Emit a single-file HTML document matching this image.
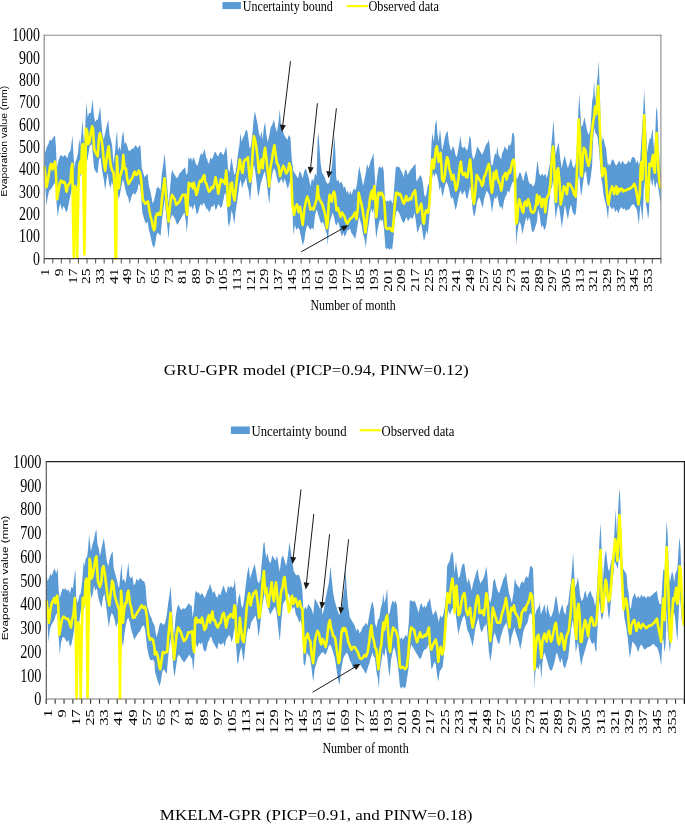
<!DOCTYPE html>
<html><head><meta charset="utf-8"><style>
html,body{margin:0;padding:0;background:#fff;width:685px;height:824px;overflow:hidden}
svg{display:block;will-change:transform}
text{font-family:"Liberation Serif",serif;fill:#000}
text.sans{font-family:"Liberation Sans",sans-serif}
</style></head><body>
<svg width="685" height="824" viewBox="0 0 685 824">
<polygon points="44.2,140.7 45.3,152.9 46.6,147.4 48.4,144.1 49.9,139.6 51.5,140.7 52.8,137.9 55.0,135.2 55.9,146.3 56.8,168.4 58.1,161.7 59.9,156.2 61.6,155.1 63.0,157.3 64.3,155.1 66.1,156.2 67.4,158.4 68.7,152.9 70.5,150.7 71.4,144.1 72.5,135.2 73.6,157.3 74.7,168.4 75.3,161.7 76.4,159.5 78.0,152.9 79.3,138.5 80.2,146.3 81.5,133.0 82.6,119.8 83.7,141.9 84.8,135.2 86.4,102.1 87.7,117.6 89.0,113.1 90.8,113.1 92.6,99.4 93.9,115.3 95.2,122.0 96.5,119.8 97.7,119.8 99.0,113.1 100.1,106.5 101.2,119.8 102.3,133.0 103.8,139.6 105.6,130.8 107.1,124.2 108.3,119.8 109.6,135.2 110.9,139.6 112.2,146.3 113.6,163.9 114.9,152.9 116.2,137.4 117.1,130.8 118.0,150.7 119.3,146.3 120.6,150.7 121.9,137.4 123.3,130.8 124.6,144.1 125.9,141.9 127.3,146.3 128.6,150.7 130.3,150.7 132.1,148.5 133.7,148.5 135.2,145.2 136.5,146.3 137.9,148.5 139.2,145.2 140.5,146.3 141.8,168.4 143.2,172.8 144.5,177.2 146.2,175.0 147.6,173.9 148.9,186.0 150.2,190.4 151.5,197.1 152.7,203.7 154.0,200.4 155.3,194.9 156.6,188.2 158.0,187.1 159.3,188.2 160.6,190.4 161.9,172.8 163.3,163.9 164.6,152.9 165.9,168.4 167.2,186.0 168.6,203.7 169.9,190.4 171.2,175.0 172.1,169.5 173.4,172.8 174.7,175.0 176.1,177.2 177.4,178.3 178.7,175.0 180.0,172.8 181.4,171.7 182.7,169.5 184.0,168.4 185.3,167.3 186.2,175.0 187.6,172.8 188.4,157.3 189.8,159.5 191.1,157.3 192.0,161.7 193.3,157.3 194.6,159.5 195.9,163.9 197.3,166.1 198.6,161.7 199.9,156.2 201.2,152.9 202.6,155.1 203.9,150.7 204.8,149.6 206.1,157.3 207.4,159.5 207.7,161.7 209.0,163.9 210.3,157.3 211.6,159.5 213.0,157.3 214.3,152.9 215.6,151.8 216.9,155.1 218.3,156.2 219.6,152.9 220.9,151.8 222.2,154.0 223.6,155.1 224.9,150.7 226.2,146.3 227.1,155.1 228.0,168.4 229.3,172.8 230.6,163.9 231.5,157.3 232.8,166.1 234.2,175.0 235.5,172.8 236.8,163.9 238.1,152.9 239.5,144.1 240.3,133.0 241.7,141.9 243.0,137.4 244.3,135.2 245.6,130.8 247.0,129.7 248.3,137.4 249.6,148.5 250.9,146.3 252.3,135.2 253.6,119.8 254.9,110.9 256.2,117.6 257.6,124.2 258.9,133.0 260.2,137.4 261.5,130.8 262.6,140.0 263.9,127.2 265.1,122.0 266.4,134.9 267.7,142.6 269.3,134.9 270.8,127.2 272.3,124.6 273.9,119.5 275.4,127.2 277.0,132.3 278.5,122.0 279.8,109.2 281.1,127.2 282.6,129.8 284.2,134.9 285.7,137.5 287.3,140.0 288.8,134.9 290.4,137.5 291.9,160.6 293.4,170.9 295.0,173.5 296.5,176.1 298.1,178.6 299.6,170.9 301.2,173.5 302.7,178.6 304.3,170.9 305.8,168.3 307.3,173.5 308.9,178.6 310.4,186.4 312.0,178.6 313.5,181.2 315.1,173.5 316.6,176.1 317.7,137.4 318.5,133.0 319.4,146.3 320.7,163.9 322.1,172.8 323.4,175.0 324.7,177.2 326.0,181.6 327.4,183.8 328.3,183.8 329.6,181.6 330.9,172.8 332.2,163.9 333.6,146.3 334.4,135.2 335.3,150.7 336.2,177.2 337.1,181.6 338.4,179.4 339.7,183.8 341.1,181.6 342.4,183.8 343.7,188.2 345.0,186.0 346.4,192.7 347.7,190.4 349.0,194.9 350.3,190.4 351.7,194.9 353.0,190.4 354.3,188.2 355.6,190.4 357.0,183.8 358.3,172.8 359.2,166.1 360.5,172.8 361.8,179.4 363.2,186.0 364.5,179.4 365.8,172.8 367.1,163.9 368.5,168.4 369.8,163.9 371.1,159.5 372.4,157.3 372.7,155.1 373.5,152.9 374.4,168.4 375.7,190.4 377.1,177.2 378.4,168.4 379.7,166.1 381.0,168.4 382.4,166.1 383.7,170.6 385.0,199.3 386.3,201.5 387.7,200.4 389.0,201.5 390.3,199.3 391.6,201.5 393.0,203.7 394.3,186.0 395.6,168.4 396.9,166.1 398.3,167.3 399.6,167.3 400.9,170.6 402.3,172.8 403.6,177.2 404.9,170.6 406.2,169.5 407.6,175.0 408.9,172.8 410.2,170.6 411.5,168.4 412.9,167.3 414.2,165.0 415.5,163.9 416.4,181.6 417.7,179.4 419.0,177.2 420.4,175.0 421.7,177.2 423.0,183.8 424.3,194.9 425.7,197.1 427.0,190.4 427.7,186.0 429.0,183.8 430.3,172.8 431.6,141.9 432.5,133.0 433.8,141.9 435.2,124.2 436.5,119.8 437.4,133.0 438.7,141.9 440.0,128.6 440.9,137.4 442.2,150.7 443.6,144.1 444.9,137.4 446.2,133.0 447.5,130.8 448.9,141.9 450.2,148.5 451.5,150.7 452.8,146.3 454.2,148.5 455.5,155.1 456.8,157.3 458.1,150.7 459.5,141.9 460.3,135.2 461.7,146.3 463.0,148.5 464.3,146.3 465.6,148.5 467.0,150.7 468.3,146.3 469.6,135.2 470.9,139.6 471.8,152.9 473.2,159.5 474.5,157.3 475.8,152.9 477.1,146.3 478.5,148.5 479.8,150.7 481.1,152.9 482.4,155.1 482.7,152.9 484.0,150.7 485.3,146.3 486.6,144.1 488.0,141.9 488.8,139.6 489.7,146.3 491.0,163.9 492.4,166.1 493.7,159.5 495.0,152.9 496.3,155.1 497.2,146.3 498.6,155.1 499.9,157.3 501.2,159.5 502.1,152.9 503.4,150.7 504.7,146.3 506.1,148.5 507.4,150.7 508.7,144.1 510.0,146.3 511.4,141.9 512.3,133.0 513.6,133.0 514.5,137.4 515.3,168.4 516.7,179.4 518.0,177.2 519.3,172.8 520.6,172.8 522.0,177.2 523.3,181.6 524.6,175.0 525.9,170.6 527.3,175.0 528.6,181.6 529.9,183.8 531.2,183.8 532.6,186.0 533.9,186.0 535.2,181.6 536.5,168.4 537.6,160.6 539.1,173.5 540.7,176.1 542.2,173.5 543.7,176.1 545.3,173.5 546.8,178.6 548.4,170.9 549.9,163.2 551.5,142.6 552.5,132.3 553.5,119.5 554.6,140.0 555.6,155.5 557.1,147.8 558.7,142.6 560.2,158.1 561.8,168.3 563.3,160.6 564.8,155.5 566.4,163.2 567.9,168.3 569.5,163.2 571.0,158.1 572.6,165.8 574.1,168.3 575.6,163.2 577.2,140.0 578.2,114.3 579.3,93.7 580.3,111.7 581.3,127.2 582.9,124.6 584.4,116.9 585.9,124.6 587.5,132.3 589.0,134.9 590.6,127.2 592.1,101.5 593.1,96.3 594.1,80.9 595.1,101.5 596.2,91.2 597.7,75.7 598.7,60.3 599.8,91.2 600.8,127.2 601.8,142.6 602.9,137.5 603.9,140.0 604.9,145.2 606.0,147.8 607.0,158.1 608.0,165.8 609.0,163.2 610.1,165.8 611.6,160.6 613.2,159.3 614.7,163.2 616.2,165.8 617.8,163.2 619.3,160.6 620.9,164.5 622.4,160.6 624.0,163.2 625.5,164.5 627.0,163.2 628.6,160.6 630.1,163.2 631.7,158.1 633.2,156.8 634.8,158.1 636.3,163.2 637.9,160.6 638.9,165.8 639.3,163.9 640.2,159.5 641.1,146.3 641.9,133.0 643.3,108.7 644.2,89.9 645.0,106.5 645.9,124.2 647.3,152.9 648.1,146.3 649.0,141.9 649.9,137.4 650.8,139.6 651.7,133.0 652.6,128.6 653.4,141.9 654.3,150.7 655.2,135.2 656.1,110.9 657.0,106.5 657.9,124.2 658.7,146.3 660.1,168.4 660.7,172.8 660.7,203.7 660.1,201.5 658.7,190.4 657.9,186.0 657.0,181.6 656.1,183.8 655.2,188.2 654.3,183.8 653.4,177.2 652.6,186.0 651.7,183.8 650.8,177.2 649.9,186.0 649.0,212.5 648.1,219.2 647.3,212.5 645.9,203.7 645.0,190.4 644.2,179.4 643.3,203.7 642.4,221.4 641.5,212.5 640.6,203.7 639.7,212.5 638.9,224.9 637.9,217.2 636.8,209.5 635.3,206.9 633.7,204.4 632.2,204.4 630.6,206.9 629.1,209.5 627.6,209.5 626.0,210.8 624.5,208.2 622.9,209.5 621.4,206.9 619.8,209.5 618.3,213.4 616.8,209.5 615.2,212.1 613.7,206.9 612.1,209.5 610.6,206.9 609.0,204.4 608.0,219.8 607.0,212.1 606.0,204.4 604.4,199.2 603.4,194.1 602.3,183.8 601.3,178.6 600.3,168.3 599.3,152.9 597.7,137.5 596.7,134.9 595.1,132.3 594.1,127.2 593.1,140.0 592.1,165.8 590.6,178.6 589.0,186.4 587.5,183.8 585.9,170.9 584.4,173.5 582.9,183.8 581.3,196.6 580.3,188.9 579.3,173.5 577.7,183.8 576.7,204.4 575.6,214.7 574.1,214.7 572.6,212.1 571.0,204.4 569.5,209.5 567.9,219.8 566.4,212.1 564.8,204.4 563.3,217.2 561.8,227.5 560.2,214.7 558.7,204.4 557.1,209.5 555.6,219.8 554.6,204.4 553.5,178.6 552.0,186.4 550.4,191.5 548.9,204.4 547.3,217.2 545.8,227.5 544.3,230.1 542.7,224.9 541.2,227.5 539.6,214.7 538.1,209.5 537.0,221.4 535.7,225.8 534.3,230.2 533.0,232.4 531.7,230.2 530.4,221.4 529.0,217.0 527.7,221.4 526.4,217.0 525.1,221.4 523.7,228.0 522.4,234.6 521.1,225.8 519.8,221.4 518.4,225.8 517.1,234.6 516.2,245.7 515.3,203.7 514.5,183.8 513.1,181.6 511.8,183.8 510.5,188.2 509.2,192.7 507.8,190.4 506.5,194.9 505.2,197.1 503.9,201.5 502.5,210.3 501.2,205.9 499.9,208.1 498.6,201.5 497.2,194.9 495.9,199.3 494.6,197.1 493.3,203.7 491.9,212.5 490.6,201.5 489.3,194.9 488.0,192.7 486.6,190.4 485.3,194.9 484.0,199.3 482.7,208.1 482.0,205.9 480.7,201.5 479.3,197.1 478.0,199.3 476.7,203.7 475.4,212.5 474.0,217.0 472.7,210.3 471.4,194.9 470.1,186.0 468.7,192.7 467.4,199.3 466.1,197.1 464.8,190.4 463.4,192.7 462.1,194.9 460.8,190.4 459.5,192.7 458.1,199.3 456.8,205.9 455.5,210.3 454.2,203.7 452.8,197.1 451.5,199.3 450.2,194.9 448.9,188.2 447.5,183.8 446.2,181.6 444.9,186.0 443.6,192.7 442.2,197.1 440.9,186.0 439.6,190.4 438.3,181.6 436.9,175.0 435.6,172.8 434.3,177.2 433.0,172.8 431.6,181.6 430.3,203.7 429.0,221.4 427.7,234.6 426.5,230.2 425.2,236.8 423.9,241.3 422.6,232.4 421.2,223.6 419.9,225.8 418.6,230.2 417.3,232.4 415.9,221.4 414.6,212.5 413.3,217.0 412.0,219.2 410.6,217.0 409.3,219.2 408.0,221.4 406.7,217.0 405.3,219.2 404.0,223.6 402.7,221.4 401.4,219.2 400.0,214.7 398.7,212.5 397.4,210.3 396.1,212.5 394.7,221.4 393.4,239.0 392.1,250.1 390.8,247.9 389.4,250.1 388.1,247.9 386.8,249.0 385.5,247.9 384.1,230.2 382.8,219.2 381.5,221.4 380.2,219.2 378.8,223.6 377.5,230.2 376.2,239.0 374.9,221.4 374.0,208.1 372.7,212.5 372.4,212.5 371.1,208.1 369.8,217.0 368.5,225.8 367.1,234.6 365.8,247.9 364.5,239.0 363.2,234.6 361.8,225.8 360.5,221.4 359.2,217.0 357.9,223.6 356.5,232.4 355.2,239.0 353.9,236.8 352.6,234.6 351.2,232.4 349.9,228.0 348.6,230.2 347.3,230.2 345.9,234.6 344.6,236.8 343.3,232.4 341.9,236.8 340.6,232.4 339.3,225.8 338.0,221.4 336.6,225.8 335.3,223.6 334.0,217.0 332.7,212.5 331.3,217.0 330.0,221.4 328.7,230.2 327.8,245.7 326.9,234.6 325.6,230.2 324.3,225.8 323.0,221.4 321.6,223.6 320.3,221.4 319.0,217.0 317.7,212.5 316.6,209.5 315.1,214.7 313.5,230.1 312.0,227.5 310.4,230.1 308.9,227.5 307.3,224.9 305.8,230.1 304.3,240.4 302.7,245.5 301.2,237.8 299.6,230.1 298.1,227.5 296.5,230.1 295.0,224.9 293.4,235.2 292.4,209.5 290.9,178.6 289.3,183.8 287.8,188.9 286.2,183.8 284.7,178.6 283.2,183.8 281.6,178.6 280.1,181.2 278.5,183.8 277.0,178.6 275.4,170.9 273.9,168.3 272.3,173.5 270.8,183.8 269.3,204.4 267.7,191.5 266.2,178.6 264.6,170.9 263.1,176.1 262.0,179.4 260.7,183.8 259.3,192.7 258.0,197.1 256.7,183.8 255.4,172.8 254.0,163.9 252.7,172.8 251.4,186.0 250.1,201.5 248.7,190.4 247.4,186.0 246.1,177.2 244.8,181.6 243.4,183.8 242.1,188.2 240.8,179.4 239.5,183.8 238.1,194.9 236.8,203.7 235.5,212.5 234.2,224.7 232.8,214.7 231.5,210.3 230.2,221.4 228.9,226.9 228.0,221.4 227.1,208.1 226.2,194.9 224.9,192.7 223.6,199.3 222.2,205.9 220.9,208.1 219.6,205.9 218.3,203.7 216.9,208.1 215.6,210.3 214.3,203.7 213.0,207.0 211.6,205.9 210.3,210.3 209.0,212.5 207.7,208.1 207.4,210.3 206.1,208.1 204.8,204.8 203.5,202.6 202.1,205.9 200.8,203.7 199.5,207.0 198.2,212.5 196.8,214.7 195.5,208.1 194.2,203.7 192.9,210.3 191.5,205.9 190.2,208.1 188.9,203.7 187.6,223.6 186.7,232.4 185.8,221.4 184.5,212.5 183.1,214.7 181.8,217.0 180.5,219.2 179.2,221.4 177.8,224.7 176.5,223.6 175.2,219.2 173.9,217.0 172.5,214.7 171.2,217.0 169.9,221.4 168.6,239.0 167.2,225.8 165.9,212.5 164.6,199.3 163.3,210.3 161.9,221.4 160.6,235.7 159.3,234.6 158.0,232.4 156.6,234.6 155.3,243.5 154.0,247.9 152.7,245.7 151.5,241.3 150.2,234.6 148.9,230.2 147.6,221.4 146.2,223.6 144.9,221.4 143.6,217.0 142.3,212.5 141.4,199.3 140.1,186.0 138.7,183.8 137.4,190.4 136.1,192.7 134.8,194.9 133.4,192.7 132.1,194.9 130.8,199.3 129.5,203.7 128.1,197.1 126.8,194.9 125.5,190.4 124.2,183.8 122.8,179.4 121.5,186.0 120.2,192.7 118.9,199.3 117.5,192.7 115.8,199.3 114.4,194.9 113.1,186.0 111.8,181.6 110.5,188.2 109.1,183.8 107.8,172.8 106.5,179.4 105.2,190.4 103.8,179.4 102.1,170.6 100.5,157.3 99.0,159.5 97.7,172.8 96.3,172.8 94.1,168.4 91.9,144.1 89.7,146.3 87.5,159.5 85.3,163.9 83.1,168.4 80.9,175.0 79.3,177.2 77.6,183.8 75.8,192.7 74.2,190.4 72.7,186.0 71.6,190.4 70.5,194.9 68.7,203.7 67.4,210.3 66.1,212.5 64.7,208.1 63.4,205.9 62.1,210.3 60.3,203.7 59.0,208.1 57.7,217.0 56.6,203.7 55.5,181.6 54.4,183.8 52.8,186.0 51.0,189.3 49.3,190.4 47.7,197.1 46.4,205.9 45.3,186.0 44.2,172.8" fill="#5B9BD5" stroke="none"/>
<polyline points="44.2,166.1 45.3,175.0 46.6,187.1 48.4,177.2 49.9,167.3 51.0,163.9 52.4,169.5 53.7,165.0 55.0,161.7 55.9,172.8 57.0,199.3 58.6,190.4 59.9,182.7 61.2,180.5 62.8,182.7 63.9,181.6 65.2,183.8 66.5,191.6 67.8,186.0 69.2,183.8 70.5,181.6 71.4,168.4 72.3,163.9 73.1,217.0 73.8,256.7 74.9,186.0 76.0,188.2 77.1,257.8 78.4,190.4 79.3,165.0 80.2,161.7 81.1,172.8 82.0,146.3 82.9,144.1 83.7,203.7 84.4,254.5 85.3,190.4 85.9,128.6 87.1,130.8 88.2,144.1 89.5,141.9 90.8,133.0 92.1,126.4 93.0,128.6 94.1,148.5 95.7,152.9 97.0,155.1 97.7,156.2 99.0,137.4 99.9,133.0 101.2,137.4 102.5,146.3 103.8,161.7 105.2,170.6 106.5,159.5 107.8,150.7 108.7,146.3 109.6,157.3 110.9,166.1 112.2,170.6 113.6,172.8 114.9,190.4 115.5,258.9 116.2,256.7 116.9,156.2 117.8,172.8 118.9,188.2 120.0,177.2 121.1,172.8 122.4,168.4 123.3,155.1 124.6,168.4 125.9,168.4 127.3,179.4 128.6,183.8 129.9,181.6 131.2,179.4 132.6,177.2 133.9,172.8 134.8,171.7 136.1,175.0 137.4,173.9 138.7,170.6 140.1,172.8 141.4,181.6 142.7,199.3 144.0,201.5 145.4,203.7 146.7,202.6 148.0,201.5 149.3,210.3 150.7,217.0 152.0,221.4 152.7,225.8 154.0,230.2 154.9,228.0 155.7,217.0 157.1,213.6 158.4,214.7 159.7,212.5 160.6,214.7 161.9,199.3 163.3,188.2 164.6,178.3 165.9,194.9 167.2,208.1 168.6,221.4 169.4,212.5 170.8,199.3 172.1,194.9 173.4,197.1 174.7,199.3 176.1,204.8 177.4,203.7 178.7,202.6 180.0,200.4 181.4,197.1 182.7,194.9 184.5,194.9 185.3,194.9 186.2,208.1 187.1,214.7 188.0,194.9 188.9,182.7 190.2,186.0 191.5,183.8 192.9,188.2 193.7,182.7 195.1,188.2 196.4,194.9 197.7,190.4 199.0,183.8 200.4,180.5 201.7,181.6 203.0,177.2 204.3,175.0 205.2,181.6 206.5,183.8 207.7,188.2 209.0,191.6 210.3,190.4 211.6,187.1 213.0,188.2 214.3,183.8 215.6,177.2 216.9,183.8 218.3,193.8 219.6,186.0 220.9,179.4 222.2,181.6 223.6,180.5 224.9,183.8 226.2,170.6 227.1,181.6 228.0,205.9 229.3,204.8 230.6,183.8 231.9,182.7 233.3,194.9 234.6,200.4 235.9,188.2 237.3,175.0 238.6,168.4 239.9,159.5 241.2,168.4 242.6,172.8 243.9,161.7 245.2,159.5 246.5,159.5 247.9,157.3 248.7,168.4 250.1,181.6 251.4,172.8 252.3,159.5 253.2,144.1 254.0,136.3 254.9,139.6 256.2,146.3 257.6,157.3 258.9,172.8 260.2,163.9 261.5,159.5 262.6,168.3 264.1,152.9 265.1,147.8 266.4,158.1 267.7,170.9 269.3,186.4 270.3,168.3 271.8,160.6 272.9,152.9 274.4,145.2 275.4,152.9 277.0,163.2 278.5,165.8 280.1,176.1 281.6,170.9 283.2,165.8 284.7,168.3 286.2,173.5 287.8,170.9 289.3,163.2 290.9,168.3 292.4,204.4 294.0,214.7 295.5,206.9 297.0,204.4 298.6,212.1 300.1,206.9 301.2,214.7 302.7,224.9 304.3,209.5 305.8,201.8 307.3,196.6 308.9,201.8 310.4,209.5 312.0,208.2 313.5,209.5 315.1,204.4 316.6,199.2 317.7,186.0 318.5,194.9 319.4,199.3 320.7,201.5 322.1,203.7 323.4,208.1 324.7,212.5 326.0,219.2 326.9,228.0 327.8,221.4 328.7,203.7 329.6,194.9 330.5,197.1 331.8,201.5 332.7,194.9 334.0,191.6 334.9,194.9 335.8,203.7 336.6,210.3 338.0,208.1 339.3,212.5 340.6,217.0 341.9,212.5 343.3,214.7 344.6,217.0 345.9,221.4 347.3,223.6 348.6,221.4 349.9,219.2 351.2,218.1 352.6,217.0 353.9,214.7 355.2,212.5 356.5,219.2 357.9,208.1 358.7,192.7 360.1,199.3 361.4,203.7 362.7,210.3 364.0,219.2 365.4,232.4 366.2,225.8 367.1,217.0 368.0,210.3 368.9,208.1 369.8,199.3 371.1,192.7 372.4,190.4 372.7,199.3 373.5,194.9 374.4,186.0 375.3,199.3 376.2,217.0 377.1,208.1 378.0,194.9 378.8,192.7 380.2,194.9 381.5,192.7 382.8,194.9 384.1,199.3 385.0,212.5 385.9,228.0 387.2,229.1 388.6,228.0 389.9,228.0 391.2,230.2 392.5,231.3 393.4,223.6 394.7,205.9 396.1,192.7 397.4,192.7 398.7,194.9 400.0,193.8 401.4,197.1 402.7,201.5 404.0,203.7 405.3,199.3 406.2,196.0 407.1,200.4 408.4,200.4 409.8,198.2 411.1,199.3 412.4,194.9 413.7,192.7 415.1,190.4 416.4,203.7 417.3,212.5 418.6,210.3 419.9,207.0 421.2,203.7 422.1,210.3 423.0,221.4 423.9,223.6 424.8,214.7 426.1,210.3 427.4,212.5 428.1,212.5 429.4,203.7 430.7,179.4 431.6,163.9 432.5,159.5 433.8,168.4 435.2,155.1 436.0,148.5 436.9,146.3 437.8,155.1 438.7,161.7 439.6,159.5 440.5,152.9 441.3,163.9 442.2,179.4 443.6,181.6 444.9,175.0 446.2,161.7 447.1,157.3 448.0,159.5 449.3,168.4 450.6,172.8 451.9,179.4 453.3,175.0 454.6,181.6 455.9,190.4 457.3,186.0 458.6,177.2 459.9,166.1 460.8,161.7 462.1,172.8 463.4,175.0 464.8,172.8 466.1,177.2 467.4,177.2 468.7,168.4 470.1,159.5 471.4,172.8 472.7,197.1 474.0,203.7 475.4,190.4 476.7,175.0 478.0,177.2 479.3,179.4 480.7,181.6 482.0,186.0 483.1,183.8 484.0,177.2 485.3,175.0 486.6,170.6 488.0,166.1 488.8,163.9 489.7,168.4 490.6,183.8 491.9,192.7 492.8,186.0 493.7,172.8 494.6,179.4 495.5,172.8 496.3,170.6 497.2,177.2 498.6,181.6 499.9,183.8 501.2,190.4 502.1,186.0 503.0,177.2 504.3,175.0 505.6,172.8 506.5,179.4 507.8,175.0 509.2,170.6 510.0,172.8 510.9,168.4 512.3,161.7 513.6,159.5 514.5,163.9 515.3,192.7 516.2,223.6 517.1,221.4 518.0,208.1 519.3,199.3 520.6,203.7 522.0,210.3 523.3,212.5 524.2,203.7 525.5,201.5 526.8,205.9 528.2,199.3 529.5,203.7 530.8,210.3 532.1,212.5 533.5,212.5 534.8,210.3 536.1,203.7 537.0,194.9 537.6,204.4 538.6,199.2 539.6,196.6 540.7,201.8 541.7,206.9 542.7,199.2 544.3,199.2 545.3,212.1 546.3,201.8 547.3,196.6 548.9,194.1 550.4,183.8 551.5,163.2 553.0,146.5 554.0,158.1 555.1,194.1 556.1,201.8 557.1,170.9 558.2,168.3 559.7,183.8 560.7,204.4 562.3,196.6 563.8,186.4 565.4,188.9 566.9,194.1 567.9,183.8 569.5,183.8 571.0,186.4 572.6,188.9 574.1,194.1 575.6,196.6 576.7,178.6 577.7,147.8 578.7,119.5 579.8,134.9 580.8,173.5 581.8,176.1 582.9,155.5 583.9,147.8 585.4,150.3 587.0,160.6 588.5,165.8 590.1,158.1 591.6,134.9 593.1,122.0 594.1,116.9 595.1,106.6 596.2,114.3 597.2,101.5 598.2,86.0 599.3,114.3 600.3,140.0 601.3,160.6 602.3,176.1 603.4,170.9 604.4,168.3 605.4,170.9 606.5,186.4 607.5,199.2 608.5,204.4 609.6,196.6 610.6,191.5 612.1,186.4 613.2,188.9 614.2,194.1 615.2,188.9 616.2,186.4 617.3,194.1 618.3,188.9 619.3,191.5 620.4,188.9 621.9,188.9 623.4,191.5 625.0,190.2 626.5,190.2 628.1,188.9 629.6,188.9 631.2,187.6 632.7,186.4 634.3,183.8 635.3,186.4 636.3,191.5 637.3,196.6 638.4,204.4 639.7,194.9 640.6,168.4 641.5,161.7 642.4,179.4 643.3,146.3 644.2,115.3 645.0,135.2 645.9,172.8 646.8,199.3 647.7,201.5 648.6,186.0 649.5,163.9 650.3,163.9 651.2,166.1 652.1,159.5 653.0,155.1 653.9,168.4 654.8,172.8 655.6,152.9 656.5,133.0 657.4,146.3 658.3,168.4 659.2,179.4 660.1,186.0 660.7,188.2" fill="none" stroke="#FFFF00" stroke-width="2.6" stroke-linejoin="round"/>
<path d="M44.20,258.6v4.9M52.77,258.6v4.9M61.33,258.6v4.9M69.90,258.6v4.9M78.46,258.6v4.9M87.03,258.6v4.9M95.59,258.6v4.9M104.16,258.6v4.9M112.72,258.6v4.9M121.29,258.6v4.9M129.85,258.6v4.9M138.42,258.6v4.9M146.98,258.6v4.9M155.55,258.6v4.9M164.11,258.6v4.9M172.68,258.6v4.9M181.24,258.6v4.9M189.81,258.6v4.9M198.38,258.6v4.9M206.94,258.6v4.9M215.51,258.6v4.9M224.07,258.6v4.9M232.64,258.6v4.9M241.20,258.6v4.9M249.77,258.6v4.9M258.33,258.6v4.9M266.90,258.6v4.9M275.46,258.6v4.9M284.03,258.6v4.9M292.59,258.6v4.9M301.16,258.6v4.9M309.72,258.6v4.9M318.29,258.6v4.9M326.85,258.6v4.9M335.42,258.6v4.9M343.98,258.6v4.9M352.55,258.6v4.9M361.12,258.6v4.9M369.68,258.6v4.9M378.25,258.6v4.9M386.81,258.6v4.9M395.38,258.6v4.9M403.94,258.6v4.9M412.51,258.6v4.9M421.07,258.6v4.9M429.64,258.6v4.9M438.20,258.6v4.9M446.77,258.6v4.9M455.33,258.6v4.9M463.90,258.6v4.9M472.46,258.6v4.9M481.03,258.6v4.9M489.59,258.6v4.9M498.16,258.6v4.9M506.72,258.6v4.9M515.29,258.6v4.9M523.86,258.6v4.9M532.42,258.6v4.9M540.99,258.6v4.9M549.55,258.6v4.9M558.12,258.6v4.9M566.68,258.6v4.9M575.25,258.6v4.9M583.81,258.6v4.9M592.38,258.6v4.9M600.94,258.6v4.9M609.51,258.6v4.9M618.07,258.6v4.9M626.64,258.6v4.9M635.20,258.6v4.9M643.77,258.6v4.9M652.33,258.6v4.9M660.90,258.6v4.9" stroke="#606060" stroke-width="1.1"/>
<line x1="43.7" x2="661.4" y1="35.3" y2="35.3" stroke="#8a8a8a" stroke-width="1.1"/>
<line x1="660.9" x2="660.9" y1="34.8" y2="259.1" stroke="#8a8a8a" stroke-width="1.1"/>
<line x1="44.2" x2="44.2" y1="34.8" y2="263.5" stroke="#8a8a8a" stroke-width="1.2"/>
<line x1="44.2" x2="660.9" y1="258.6" y2="258.6" stroke="#3a3a3a" stroke-width="1.1"/>
<text x="39.9" y="264.8" text-anchor="end" font-size="18.5" transform="translate(39.9,0) scale(0.75,1) translate(-39.9,0)">0</text>
<text x="39.9" y="242.5" text-anchor="end" font-size="18.5" transform="translate(39.9,0) scale(0.75,1) translate(-39.9,0)">100</text>
<text x="39.9" y="220.1" text-anchor="end" font-size="18.5" transform="translate(39.9,0) scale(0.75,1) translate(-39.9,0)">200</text>
<text x="39.9" y="197.8" text-anchor="end" font-size="18.5" transform="translate(39.9,0) scale(0.75,1) translate(-39.9,0)">300</text>
<text x="39.9" y="175.5" text-anchor="end" font-size="18.5" transform="translate(39.9,0) scale(0.75,1) translate(-39.9,0)">400</text>
<text x="39.9" y="153.2" text-anchor="end" font-size="18.5" transform="translate(39.9,0) scale(0.75,1) translate(-39.9,0)">500</text>
<text x="39.9" y="130.8" text-anchor="end" font-size="18.5" transform="translate(39.9,0) scale(0.75,1) translate(-39.9,0)">600</text>
<text x="39.9" y="108.5" text-anchor="end" font-size="18.5" transform="translate(39.9,0) scale(0.75,1) translate(-39.9,0)">700</text>
<text x="39.9" y="86.2" text-anchor="end" font-size="18.5" transform="translate(39.9,0) scale(0.75,1) translate(-39.9,0)">800</text>
<text x="39.9" y="63.8" text-anchor="end" font-size="18.5" transform="translate(39.9,0) scale(0.75,1) translate(-39.9,0)">900</text>
<text x="39.9" y="41.5" text-anchor="end" font-size="18.5" transform="translate(39.9,0) scale(0.75,1) translate(-39.9,0)">1000</text>
<text x="0" y="0" text-anchor="end" font-size="15.5" transform="translate(49.16,268.4) scale(0.8,1) rotate(-90)">1</text>
<text x="0" y="0" text-anchor="end" font-size="15.5" transform="translate(62.86,268.4) scale(0.8,1) rotate(-90)">9</text>
<text x="0" y="0" text-anchor="end" font-size="15.5" transform="translate(76.57,268.4) scale(0.8,1) rotate(-90)">17</text>
<text x="0" y="0" text-anchor="end" font-size="15.5" transform="translate(90.27,268.4) scale(0.8,1) rotate(-90)">25</text>
<text x="0" y="0" text-anchor="end" font-size="15.5" transform="translate(103.97,268.4) scale(0.8,1) rotate(-90)">33</text>
<text x="0" y="0" text-anchor="end" font-size="15.5" transform="translate(117.68,268.4) scale(0.8,1) rotate(-90)">41</text>
<text x="0" y="0" text-anchor="end" font-size="15.5" transform="translate(131.38,268.4) scale(0.8,1) rotate(-90)">49</text>
<text x="0" y="0" text-anchor="end" font-size="15.5" transform="translate(145.09,268.4) scale(0.8,1) rotate(-90)">57</text>
<text x="0" y="0" text-anchor="end" font-size="15.5" transform="translate(158.79,268.4) scale(0.8,1) rotate(-90)">65</text>
<text x="0" y="0" text-anchor="end" font-size="15.5" transform="translate(172.50,268.4) scale(0.8,1) rotate(-90)">73</text>
<text x="0" y="0" text-anchor="end" font-size="15.5" transform="translate(186.20,268.4) scale(0.8,1) rotate(-90)">81</text>
<text x="0" y="0" text-anchor="end" font-size="15.5" transform="translate(199.91,268.4) scale(0.8,1) rotate(-90)">89</text>
<text x="0" y="0" text-anchor="end" font-size="15.5" transform="translate(213.61,268.4) scale(0.8,1) rotate(-90)">97</text>
<text x="0" y="0" text-anchor="end" font-size="15.5" transform="translate(227.31,268.4) scale(0.8,1) rotate(-90)">105</text>
<text x="0" y="0" text-anchor="end" font-size="15.5" transform="translate(241.02,268.4) scale(0.8,1) rotate(-90)">113</text>
<text x="0" y="0" text-anchor="end" font-size="15.5" transform="translate(254.72,268.4) scale(0.8,1) rotate(-90)">121</text>
<text x="0" y="0" text-anchor="end" font-size="15.5" transform="translate(268.43,268.4) scale(0.8,1) rotate(-90)">129</text>
<text x="0" y="0" text-anchor="end" font-size="15.5" transform="translate(282.13,268.4) scale(0.8,1) rotate(-90)">137</text>
<text x="0" y="0" text-anchor="end" font-size="15.5" transform="translate(295.84,268.4) scale(0.8,1) rotate(-90)">145</text>
<text x="0" y="0" text-anchor="end" font-size="15.5" transform="translate(309.54,268.4) scale(0.8,1) rotate(-90)">153</text>
<text x="0" y="0" text-anchor="end" font-size="15.5" transform="translate(323.25,268.4) scale(0.8,1) rotate(-90)">161</text>
<text x="0" y="0" text-anchor="end" font-size="15.5" transform="translate(336.95,268.4) scale(0.8,1) rotate(-90)">169</text>
<text x="0" y="0" text-anchor="end" font-size="15.5" transform="translate(350.65,268.4) scale(0.8,1) rotate(-90)">177</text>
<text x="0" y="0" text-anchor="end" font-size="15.5" transform="translate(364.36,268.4) scale(0.8,1) rotate(-90)">185</text>
<text x="0" y="0" text-anchor="end" font-size="15.5" transform="translate(378.06,268.4) scale(0.8,1) rotate(-90)">193</text>
<text x="0" y="0" text-anchor="end" font-size="15.5" transform="translate(391.77,268.4) scale(0.8,1) rotate(-90)">201</text>
<text x="0" y="0" text-anchor="end" font-size="15.5" transform="translate(405.47,268.4) scale(0.8,1) rotate(-90)">209</text>
<text x="0" y="0" text-anchor="end" font-size="15.5" transform="translate(419.18,268.4) scale(0.8,1) rotate(-90)">217</text>
<text x="0" y="0" text-anchor="end" font-size="15.5" transform="translate(432.88,268.4) scale(0.8,1) rotate(-90)">225</text>
<text x="0" y="0" text-anchor="end" font-size="15.5" transform="translate(446.59,268.4) scale(0.8,1) rotate(-90)">233</text>
<text x="0" y="0" text-anchor="end" font-size="15.5" transform="translate(460.29,268.4) scale(0.8,1) rotate(-90)">241</text>
<text x="0" y="0" text-anchor="end" font-size="15.5" transform="translate(473.99,268.4) scale(0.8,1) rotate(-90)">249</text>
<text x="0" y="0" text-anchor="end" font-size="15.5" transform="translate(487.70,268.4) scale(0.8,1) rotate(-90)">257</text>
<text x="0" y="0" text-anchor="end" font-size="15.5" transform="translate(501.40,268.4) scale(0.8,1) rotate(-90)">265</text>
<text x="0" y="0" text-anchor="end" font-size="15.5" transform="translate(515.11,268.4) scale(0.8,1) rotate(-90)">273</text>
<text x="0" y="0" text-anchor="end" font-size="15.5" transform="translate(528.81,268.4) scale(0.8,1) rotate(-90)">281</text>
<text x="0" y="0" text-anchor="end" font-size="15.5" transform="translate(542.52,268.4) scale(0.8,1) rotate(-90)">289</text>
<text x="0" y="0" text-anchor="end" font-size="15.5" transform="translate(556.22,268.4) scale(0.8,1) rotate(-90)">297</text>
<text x="0" y="0" text-anchor="end" font-size="15.5" transform="translate(569.93,268.4) scale(0.8,1) rotate(-90)">305</text>
<text x="0" y="0" text-anchor="end" font-size="15.5" transform="translate(583.63,268.4) scale(0.8,1) rotate(-90)">313</text>
<text x="0" y="0" text-anchor="end" font-size="15.5" transform="translate(597.33,268.4) scale(0.8,1) rotate(-90)">321</text>
<text x="0" y="0" text-anchor="end" font-size="15.5" transform="translate(611.04,268.4) scale(0.8,1) rotate(-90)">329</text>
<text x="0" y="0" text-anchor="end" font-size="15.5" transform="translate(624.74,268.4) scale(0.8,1) rotate(-90)">337</text>
<text x="0" y="0" text-anchor="end" font-size="15.5" transform="translate(638.45,268.4) scale(0.8,1) rotate(-90)">345</text>
<text x="0" y="0" text-anchor="end" font-size="15.5" transform="translate(652.15,268.4) scale(0.8,1) rotate(-90)">353</text>
<rect x="222.4" y="2.1" width="18.5" height="7.0" fill="#5B9BD5"/>
<text x="242.8" y="10.5" font-size="13.6" textLength="90.1" lengthAdjust="spacingAndGlyphs">Uncertainty bound</text>
<line x1="346.9" x2="367.9" y1="6.1" y2="6.1" stroke="#FFFF00" stroke-width="2.2"/>
<text x="368.4" y="10.5" font-size="13.6" textLength="70.6" lengthAdjust="spacingAndGlyphs">Observed data</text>
<text x="310.4" y="310.4" font-size="14.7" textLength="85.2" lengthAdjust="spacingAndGlyphs">Number of month</text>
<text x="0" y="0" class="sans" font-size="8.6" textLength="110.7" lengthAdjust="spacingAndGlyphs" transform="translate(7.1,196.5) rotate(-90)">Evaporation value (mm)</text>
<text x="163.8" y="374.6" font-size="15" textLength="305" lengthAdjust="spacingAndGlyphs">GRU-GPR model (PICP=0.94, PINW=0.12)</text>
<polygon points="46.4,571.1 47.4,580.9 48.9,578.5 50.3,573.5 51.8,576.0 53.3,571.1 54.7,568.6 56.2,573.5 57.7,568.6 58.7,590.7 59.7,598.1 61.1,593.2 62.6,588.3 64.1,589.5 65.5,588.3 67.0,590.7 68.5,589.5 69.9,593.2 71.4,587.0 72.9,588.3 74.4,576.0 75.3,568.6 76.3,598.1 77.8,603.0 79.3,595.6 80.7,593.2 82.2,580.9 83.7,561.3 84.7,566.2 85.6,558.8 87.1,556.4 88.1,549.0 89.1,534.3 90.1,544.1 91.0,551.5 92.5,544.1 94.0,539.2 95.4,531.9 96.4,529.4 97.4,544.1 98.9,549.0 99.9,556.4 101.4,549.0 102.9,541.7 103.9,538.0 105.3,549.0 106.8,561.3 108.3,566.2 109.7,558.8 111.2,553.9 112.7,551.5 113.7,568.6 115.1,573.5 116.6,578.5 118.1,585.8 119.1,588.3 120.5,573.5 121.5,563.7 122.5,580.9 124.0,578.5 125.4,583.4 126.9,573.5 128.4,562.5 129.4,576.0 130.8,578.5 132.3,576.0 133.8,585.8 135.2,583.4 136.7,578.5 138.2,580.9 139.7,578.5 141.1,578.5 142.6,580.9 144.1,580.9 145.5,585.8 147.0,605.4 148.5,610.3 150.0,615.2 151.4,617.7 152.9,622.6 154.4,625.0 154.9,627.5 156.4,637.3 157.9,632.4 159.4,625.0 160.8,622.6 162.3,623.8 163.8,625.0 165.2,622.6 166.7,615.2 168.2,603.0 169.7,593.2 170.6,585.8 171.6,603.0 173.1,627.5 174.1,637.3 175.5,617.7 177.0,607.9 178.5,604.2 179.9,607.9 181.4,610.3 182.9,607.9 184.4,609.1 185.8,607.9 187.3,605.4 188.8,603.0 190.2,605.4 191.7,605.4 192.7,617.7 193.7,610.3 195.1,593.2 196.1,590.7 197.6,593.2 198.6,591.9 200.1,595.6 201.5,593.2 203.0,594.4 204.5,598.1 205.9,595.6 207.4,590.7 208.9,588.3 209.9,583.4 211.4,588.3 212.9,593.2 214.4,590.7 215.8,595.6 217.3,598.1 218.8,593.2 220.2,595.6 221.7,590.7 223.2,585.8 224.2,587.0 225.1,590.7 226.6,593.2 228.1,585.8 229.6,588.3 231.0,585.8 232.5,588.3 234.0,585.8 234.9,578.5 235.9,593.2 236.9,607.9 238.4,598.1 239.9,593.2 241.3,605.4 242.8,607.9 244.3,598.1 245.7,585.8 247.2,573.5 248.7,566.2 250.1,578.5 251.6,573.5 253.1,568.6 254.6,563.7 256.0,571.1 257.5,580.9 259.0,583.4 260.4,578.5 261.9,561.3 263.4,544.1 264.4,541.7 265.2,550.0 266.3,558.1 267.4,552.7 269.0,560.8 270.6,563.5 272.2,555.4 273.9,558.1 275.5,560.8 277.1,555.4 278.7,566.2 279.8,571.6 281.4,558.1 283.0,555.4 284.6,560.8 286.2,566.2 287.9,555.4 289.5,542.0 290.6,550.0 292.2,560.8 293.8,571.6 295.4,574.3 297.0,575.6 298.6,574.3 299.7,577.0 301.3,582.4 302.4,590.5 303.5,612.0 305.1,606.6 306.7,609.3 308.3,603.9 310.0,606.6 311.6,609.3 313.2,614.7 314.8,598.5 316.4,601.2 318.0,603.9 320.2,609.3 321.3,603.9 322.4,614.7 324.0,609.3 325.6,598.5 327.2,590.5 328.9,582.4 330.5,566.2 331.5,577.0 333.2,593.1 334.8,601.2 336.4,606.6 338.0,612.0 339.6,614.7 341.2,612.0 342.9,598.5 344.5,587.8 345.6,568.9 346.6,587.8 348.2,606.6 349.9,617.4 351.5,620.1 353.1,622.8 354.7,625.5 356.3,630.9 357.9,628.2 359.6,633.6 361.2,630.9 362.8,626.8 364.4,625.5 366.0,622.8 367.6,625.5 369.3,614.7 370.9,606.6 372.5,601.2 374.1,609.3 374.9,622.6 376.4,627.5 377.9,620.1 379.4,617.7 380.8,607.9 382.3,603.0 383.3,593.2 384.3,603.0 385.7,598.1 387.2,588.3 388.2,615.2 389.7,612.8 391.1,605.4 392.6,600.5 394.1,603.0 395.5,600.5 397.0,605.4 398.5,629.9 399.9,639.7 401.4,637.3 402.9,639.7 404.4,637.3 405.8,634.8 407.3,637.3 408.8,622.6 409.8,600.5 411.2,600.5 412.7,601.7 414.2,600.5 415.6,603.0 417.1,607.9 418.6,612.8 420.1,605.4 421.5,603.0 423.0,607.9 424.5,605.4 425.9,607.9 427.4,603.0 428.9,600.5 429.9,598.1 431.4,607.9 432.9,615.2 434.4,612.8 435.8,610.3 437.3,615.2 438.8,622.6 440.2,615.2 441.7,617.7 443.2,615.2 444.7,607.9 446.1,593.2 447.1,566.2 448.1,563.7 449.6,561.3 451.0,553.9 452.5,551.5 453.5,558.8 454.5,573.5 455.9,561.3 457.4,571.1 458.4,578.5 459.9,576.0 461.3,568.6 462.8,563.7 464.3,563.7 465.7,573.5 467.2,583.4 468.7,578.5 470.1,583.4 471.6,590.7 473.1,583.4 474.6,578.5 476.0,573.5 477.5,568.6 479.0,578.5 480.4,583.4 481.9,580.9 483.4,578.5 484.9,573.5 486.4,566.2 487.4,576.0 488.9,598.1 490.3,603.0 491.8,595.6 493.3,580.9 494.7,578.5 496.2,585.8 497.7,590.7 499.2,593.2 500.6,588.3 502.1,583.4 503.6,578.5 505.0,576.0 506.0,572.3 507.5,583.4 509.0,593.2 510.4,598.1 511.9,603.0 513.4,593.2 514.9,578.5 516.3,583.4 517.8,585.8 519.3,588.3 520.7,583.4 522.2,580.9 523.7,583.4 525.1,578.5 526.6,576.0 528.1,578.5 529.1,573.5 530.1,566.2 531.5,566.2 533.0,568.6 534.0,595.6 535.0,615.2 536.4,610.3 537.9,607.9 539.4,605.4 539.7,601.2 540.8,614.7 541.8,612.0 542.9,609.3 544.5,603.9 546.2,614.7 547.2,603.9 548.9,612.0 550.5,617.4 552.1,614.7 553.7,609.3 555.3,598.5 556.4,595.8 557.5,603.9 559.1,614.7 560.7,609.3 562.3,603.9 563.9,612.0 565.6,614.7 566.6,606.6 568.2,603.9 569.3,593.1 570.9,582.4 572.0,568.9 573.1,552.7 574.2,574.3 575.3,587.8 576.9,582.4 577.9,577.0 579.0,585.1 580.1,595.8 581.7,601.2 583.3,598.5 584.4,593.1 585.5,590.5 587.1,598.5 588.7,593.1 590.3,590.5 592.0,595.8 593.6,598.5 595.2,606.6 596.3,598.5 597.4,582.4 598.5,560.8 599.5,539.3 600.6,523.1 601.7,550.0 602.8,582.4 603.9,566.2 604.9,555.4 606.0,550.0 607.1,560.8 608.2,568.9 609.2,571.6 610.3,566.2 611.4,560.8 612.5,555.4 613.6,547.3 614.6,528.5 615.7,509.6 616.8,533.9 617.9,515.0 618.9,496.2 619.7,488.1 620.6,506.9 621.6,550.0 623.2,568.9 624.9,571.6 626.5,574.3 627.6,587.8 628.6,593.1 629.7,606.6 630.8,609.3 632.4,598.5 634.8,593.1 636.5,598.5 638.1,595.8 639.7,598.5 641.3,594.5 642.9,597.2 644.5,595.8 646.2,598.5 647.8,595.8 649.4,597.2 651.0,595.8 652.6,594.5 654.2,593.1 655.9,591.8 656.9,590.5 658.0,598.5 659.6,603.9 661.2,603.9 662.3,582.4 663.4,568.9 664.5,571.6 665.6,547.3 666.6,520.4 667.7,533.9 668.8,571.6 669.9,582.4 670.9,577.0 672.0,571.6 673.1,574.3 674.2,582.4 675.3,574.3 676.3,571.6 677.4,568.9 678.5,550.0 679.6,536.6 680.6,550.0 681.7,587.8 682.8,603.9 683.9,606.6 683.9,620.1 682.8,622.8 681.7,620.1 680.6,603.9 679.6,593.1 678.5,617.4 677.4,641.6 676.3,630.9 675.3,620.1 674.2,612.0 673.1,614.7 672.0,630.9 670.9,641.6 669.9,652.4 668.8,641.6 667.7,630.9 666.6,609.3 665.6,644.3 664.5,652.4 663.4,638.9 662.3,641.6 661.2,665.9 659.6,655.1 658.0,649.7 656.9,647.0 655.9,647.0 654.2,644.3 652.6,644.3 651.0,645.7 649.4,647.0 647.8,647.0 646.2,648.4 644.5,649.7 642.9,647.0 641.3,644.3 639.7,647.0 638.1,652.4 636.5,647.0 634.8,644.3 632.4,641.6 630.8,652.4 629.7,657.8 628.6,647.0 627.6,636.2 625.9,625.5 624.3,617.4 623.2,603.9 622.2,590.5 621.1,577.0 620.0,560.8 618.9,555.4 617.9,568.9 616.8,566.2 615.7,563.5 614.6,560.8 613.6,571.6 612.5,582.4 611.4,593.1 610.3,609.3 609.2,620.1 608.2,614.7 607.1,601.2 606.0,593.1 604.9,598.5 603.9,609.3 602.8,617.4 601.7,620.1 600.6,612.0 599.5,601.2 598.5,609.3 597.4,630.9 596.3,652.4 595.2,649.7 594.1,641.6 592.5,644.3 590.9,641.6 589.3,636.2 587.6,641.6 586.0,647.0 584.4,652.4 582.8,657.8 581.2,665.9 579.6,655.1 577.9,641.6 576.9,647.0 575.8,652.4 574.7,636.2 573.6,625.5 572.6,620.1 570.9,630.9 569.9,641.6 568.2,657.8 566.6,663.2 565.0,668.6 563.4,665.9 561.8,657.8 560.2,663.2 558.6,657.8 556.9,652.4 555.9,655.1 554.2,663.2 552.6,668.6 551.0,671.3 549.4,668.6 547.8,663.2 546.2,657.8 544.5,652.4 543.5,655.1 542.4,663.2 541.3,679.4 540.2,663.2 538.4,669.2 536.9,666.7 535.4,671.6 534.5,688.8 533.5,637.3 532.0,615.2 530.5,612.8 529.1,615.2 527.6,622.6 526.1,625.0 524.7,627.5 523.2,632.4 521.7,642.2 520.2,649.5 518.8,642.2 517.3,637.3 515.8,632.4 514.4,627.5 512.9,632.4 511.4,637.3 509.9,647.1 509.0,637.3 508.0,629.9 506.5,622.6 505.0,625.0 503.6,627.5 502.1,632.4 500.6,637.3 499.2,644.6 497.7,642.2 496.2,637.3 494.7,632.4 493.3,637.3 491.8,652.0 490.3,661.8 488.9,652.0 487.4,632.4 486.4,622.6 484.9,627.5 484.4,625.0 482.9,629.9 481.4,632.4 480.0,627.5 478.5,617.7 477.0,622.6 475.5,627.5 474.1,637.3 472.6,647.1 471.6,642.2 470.1,637.3 468.7,632.4 467.2,629.9 465.7,620.1 464.3,615.2 462.8,617.7 461.3,622.6 459.9,627.5 458.4,634.8 457.4,627.5 455.9,615.2 454.5,605.4 453.0,607.9 451.5,610.3 450.0,615.2 448.6,610.3 447.1,617.7 445.6,637.3 444.2,652.0 442.7,666.7 441.2,669.2 439.7,671.6 438.3,681.4 437.3,676.5 435.8,664.3 434.4,661.8 432.9,666.7 431.4,669.2 429.9,652.0 428.9,644.6 427.4,647.1 425.9,649.5 424.5,649.5 423.0,652.0 421.5,656.9 420.1,659.4 418.6,656.9 417.1,654.4 415.6,652.0 414.2,649.5 412.7,647.1 411.2,644.6 409.8,652.0 408.8,666.7 407.3,676.5 405.8,686.3 404.4,688.8 402.9,686.3 401.4,688.8 399.9,686.3 398.5,671.6 397.0,659.4 395.5,652.0 394.1,647.1 392.6,652.0 391.1,659.4 389.7,676.5 388.7,671.6 387.2,656.9 385.7,647.1 384.3,656.9 382.8,652.0 381.3,661.8 379.8,671.6 378.9,688.8 377.9,679.0 376.4,671.6 374.9,656.9 374.1,657.8 372.5,652.4 370.9,657.8 369.3,663.2 367.6,668.6 366.0,674.0 364.4,671.3 362.8,668.6 361.2,665.9 359.6,663.2 357.9,665.9 356.3,668.6 354.7,665.9 353.1,668.6 351.5,663.2 349.9,660.5 348.2,655.1 346.6,652.4 345.0,655.1 343.4,657.8 341.8,665.9 340.7,674.0 339.6,684.7 338.0,679.4 336.4,668.6 334.8,657.8 333.2,652.4 331.5,647.0 329.9,644.3 328.3,647.0 326.7,652.4 325.1,655.1 323.5,652.4 321.8,652.4 320.2,655.1 318.0,657.8 316.4,663.2 314.8,668.6 313.2,682.0 311.6,668.6 310.0,657.8 308.3,655.1 306.7,652.4 305.1,665.9 303.5,663.2 302.4,630.9 300.8,620.1 299.2,622.8 297.6,617.4 295.9,614.7 294.3,606.6 292.7,609.3 291.1,603.9 289.5,595.8 287.9,593.1 286.2,598.5 284.6,601.2 283.0,603.9 281.4,620.1 279.8,641.6 278.2,628.2 276.5,612.0 274.9,606.6 273.3,609.3 271.7,612.0 270.1,614.7 268.5,609.3 266.8,603.9 265.2,595.8 264.4,593.2 262.9,603.0 261.4,612.8 260.0,627.5 258.5,637.3 257.0,622.6 255.5,615.2 254.1,617.7 252.6,620.1 251.1,622.6 249.7,629.9 248.2,627.5 246.7,634.8 245.2,647.1 243.8,661.8 242.8,656.9 241.3,647.1 239.9,652.0 238.4,661.8 237.4,664.3 235.9,642.2 234.5,627.5 233.0,637.3 231.5,642.2 230.5,637.3 229.1,634.8 227.6,637.3 226.1,639.7 224.7,647.1 223.2,642.2 221.7,644.6 220.2,644.6 218.8,642.2 217.3,649.5 215.8,647.1 214.4,644.6 212.9,642.2 211.4,637.3 209.9,637.3 209.4,639.7 207.9,642.2 206.4,649.5 205.0,652.0 203.5,649.5 202.0,642.2 200.5,644.6 199.1,642.2 197.6,647.1 196.1,644.6 195.1,642.2 194.2,661.8 193.2,671.6 192.2,659.4 190.7,656.9 189.3,654.4 187.8,656.9 186.3,659.4 184.9,661.8 183.4,661.8 181.9,659.4 180.4,656.9 179.0,654.4 177.5,656.9 176.0,666.7 174.6,676.5 173.6,671.6 172.6,656.9 171.1,637.3 169.7,644.6 168.2,656.9 166.7,674.1 165.2,671.6 163.8,669.2 162.3,671.6 160.8,681.4 159.4,686.3 157.9,681.4 156.4,676.5 154.9,671.6 154.4,661.8 152.9,659.4 151.4,660.6 150.0,659.4 148.5,654.4 147.0,647.1 145.5,632.4 144.6,627.5 143.1,625.0 141.6,627.5 140.1,631.2 138.7,632.4 137.2,634.8 135.7,637.3 134.3,639.7 132.8,634.8 131.3,629.9 129.9,622.6 128.4,617.7 126.9,620.1 125.4,627.5 124.0,637.3 123.0,647.1 121.5,637.3 120.0,632.4 118.6,627.5 117.6,622.6 116.1,627.5 114.7,620.1 113.2,615.2 111.7,612.8 110.2,617.7 108.8,627.5 107.3,615.2 105.8,603.0 104.4,593.2 102.9,598.1 101.4,607.9 99.9,603.0 98.4,598.1 96.9,588.3 95.4,590.7 94.0,585.8 92.5,595.6 91.5,598.1 90.1,590.7 88.6,595.6 87.1,598.1 85.6,603.0 84.2,607.9 82.7,610.3 81.2,607.9 79.8,617.7 78.3,627.5 76.8,622.6 75.3,620.1 74.4,627.5 72.9,637.3 71.4,644.6 69.9,647.1 68.5,639.7 67.0,642.2 65.5,639.7 64.1,637.3 62.6,637.3 61.1,642.2 59.7,654.4 58.7,637.3 57.2,612.8 55.7,615.2 54.3,620.1 52.8,622.6 51.3,625.0 49.8,629.9 48.4,642.2 47.4,617.7 46.4,605.4" fill="#5B9BD5" stroke="none"/>
<polyline points="46.4,600.5 47.4,607.9 48.9,622.6 50.3,610.3 51.8,603.0 53.3,600.5 54.3,598.1 55.2,603.0 56.2,598.1 57.2,595.6 58.2,605.4 59.2,634.8 60.6,627.5 62.1,618.9 63.6,616.5 65.0,617.7 66.5,618.9 68.0,618.9 69.5,622.6 70.9,627.5 71.9,620.1 73.4,615.2 74.9,598.1 75.8,627.5 76.6,698.6 77.5,647.1 78.3,622.6 79.8,627.5 80.7,698.6 81.7,637.3 82.7,598.1 83.7,605.4 84.7,600.5 85.6,580.9 86.6,578.5 87.6,697.6 88.6,617.7 89.6,558.8 90.5,563.7 91.5,578.5 92.5,576.0 94.0,568.6 95.4,558.8 96.4,556.4 97.9,580.9 99.4,585.8 99.9,587.0 101.4,580.9 102.4,568.6 103.4,566.2 104.8,573.5 106.3,585.8 107.8,598.1 109.3,605.4 110.7,593.2 112.2,580.9 113.2,583.4 114.7,595.6 116.1,600.5 117.6,605.4 119.1,610.3 120.0,698.6 121.0,590.7 122.0,603.0 123.0,622.6 124.0,610.3 125.4,603.0 126.4,603.0 127.4,593.2 128.4,590.7 129.9,603.0 131.3,607.9 132.8,617.7 134.3,617.7 135.7,615.2 137.2,612.8 138.7,610.3 140.1,607.9 141.6,605.4 143.1,607.9 144.6,606.6 145.5,607.9 147.0,617.7 148.5,634.8 150.0,639.7 151.4,638.5 152.9,639.7 154.4,647.1 154.9,654.4 156.4,652.0 157.9,656.9 159.4,666.7 160.3,669.2 161.3,661.8 162.8,652.0 164.3,653.2 165.7,652.0 167.2,652.0 168.2,637.3 169.7,622.6 170.6,612.8 171.6,629.9 173.1,647.1 174.1,659.4 175.0,649.5 176.5,634.8 178.0,627.5 179.5,629.9 180.9,632.4 182.4,637.3 183.9,641.0 185.3,639.7 186.8,637.3 188.3,632.4 189.8,632.4 191.2,632.4 192.2,631.2 193.2,647.1 194.2,652.0 195.1,620.1 196.1,617.7 197.6,622.6 199.1,620.1 200.5,622.6 202.0,617.7 203.0,622.6 204.5,629.9 205.9,627.5 207.4,620.1 208.9,615.2 209.9,622.6 211.4,615.2 212.4,611.5 213.4,620.1 214.8,620.1 216.3,625.0 217.8,627.5 219.3,623.8 220.7,622.6 222.2,615.2 223.7,612.8 225.1,620.1 226.1,627.5 227.1,622.6 228.1,616.5 229.1,617.7 230.5,614.0 232.0,615.2 233.0,617.7 234.5,605.4 235.4,607.9 236.4,642.2 237.9,642.2 238.9,632.4 239.9,617.7 240.8,627.5 242.3,639.7 243.8,642.2 245.2,627.5 246.7,607.9 248.2,598.1 249.2,593.2 250.6,605.4 252.1,598.1 253.6,593.2 255.1,591.9 256.0,590.7 257.5,600.5 259.0,617.7 260.0,615.2 261.4,598.1 262.9,578.5 263.9,571.1 265.2,593.1 266.3,587.8 267.4,598.5 268.5,606.6 269.5,595.8 270.6,590.5 271.7,582.4 272.8,595.8 273.9,601.2 274.9,590.5 276.0,582.4 277.1,593.1 278.2,609.3 279.2,614.7 280.3,598.5 281.4,590.5 282.5,587.8 283.6,579.7 284.6,577.0 285.7,587.8 286.8,595.8 287.9,603.9 288.9,612.0 290.0,609.3 291.1,598.5 292.2,595.8 293.2,603.9 294.3,601.2 295.4,598.5 296.5,601.2 297.6,606.6 298.6,603.9 299.7,601.2 300.8,606.6 302.4,609.3 303.5,641.6 304.6,652.4 305.6,638.9 306.7,636.2 307.8,633.6 308.9,638.9 310.5,641.6 311.6,655.1 313.2,663.2 314.8,641.6 315.9,636.2 317.5,630.9 319.1,633.6 320.2,641.6 321.3,644.3 322.4,638.9 324.0,641.6 325.6,647.0 326.7,641.6 327.8,630.9 328.9,622.8 329.9,620.1 331.0,628.2 332.1,630.9 333.2,636.2 334.2,636.2 335.3,638.9 336.4,647.0 337.5,655.1 338.6,663.2 339.6,660.5 340.7,641.6 341.8,630.9 342.9,628.2 343.9,630.9 345.0,628.2 346.1,630.9 347.2,636.2 348.2,641.6 349.3,644.3 350.4,647.0 351.5,649.7 353.1,647.0 354.7,647.0 356.3,649.7 357.9,652.4 359.6,657.8 361.2,659.1 362.8,657.8 364.4,655.1 366.0,656.5 367.6,652.4 369.3,641.6 370.3,630.9 371.4,625.5 372.5,636.2 374.1,641.6 374.9,647.1 376.4,649.5 377.4,659.4 378.4,669.2 379.4,656.9 380.3,649.5 381.3,644.6 382.3,632.4 383.3,622.6 384.3,629.9 385.2,622.6 386.2,617.7 387.2,615.2 388.2,632.4 389.2,647.1 390.1,652.0 391.1,639.7 392.1,632.4 393.1,627.5 394.1,629.9 395.5,629.9 396.5,632.4 398.0,637.3 399.0,652.0 399.9,666.7 400.9,667.9 402.4,666.7 403.9,667.9 405.3,669.2 406.8,666.7 408.3,654.4 409.3,639.7 410.2,632.4 411.2,627.5 412.7,628.7 414.2,629.9 415.6,637.3 417.1,642.2 418.6,637.3 420.1,632.4 421.5,637.3 423.0,637.3 424.5,634.8 425.9,636.1 427.4,632.4 428.9,627.5 429.9,644.6 431.4,649.5 432.9,644.6 434.4,642.2 435.8,639.7 437.3,647.1 438.3,661.8 439.3,652.0 440.7,647.1 442.2,654.4 443.7,649.5 444.7,637.3 445.6,622.6 446.6,605.4 447.6,593.2 448.6,598.1 449.6,603.0 450.5,590.7 451.5,583.4 452.5,578.5 453.5,588.3 454.5,612.8 455.4,603.0 456.4,585.8 457.4,598.1 458.4,615.2 459.9,612.8 461.3,603.0 462.8,595.6 464.3,593.2 465.2,598.1 466.2,610.3 467.7,615.2 469.2,610.3 470.1,607.9 471.1,617.7 472.6,627.5 473.6,622.6 475.1,610.3 476.0,603.0 477.5,595.6 478.5,598.1 479.5,612.8 480.9,612.8 482.4,610.3 483.9,615.2 484.9,607.9 486.4,593.2 487.4,598.1 488.9,622.6 490.3,641.0 491.8,622.6 492.8,607.9 494.3,612.8 495.7,617.7 497.2,622.6 498.7,622.6 500.1,622.6 501.6,615.2 503.1,610.3 504.6,605.4 506.0,598.1 507.0,605.4 508.5,620.1 509.5,627.5 510.4,612.8 511.4,607.9 512.9,610.3 513.9,605.4 515.3,612.8 516.8,615.2 518.3,617.7 519.8,627.5 520.7,622.6 521.7,612.8 523.2,610.3 524.7,607.9 525.6,610.3 526.6,605.4 528.1,603.0 529.6,598.1 530.5,593.2 532.0,595.6 533.5,617.7 534.5,669.2 535.4,652.0 536.9,637.3 538.4,634.8 540.2,644.3 541.3,657.8 542.4,641.6 543.5,636.2 544.5,633.6 545.6,638.9 546.7,641.6 547.8,633.6 548.9,630.9 549.9,636.2 551.0,641.6 552.1,638.9 553.2,633.6 554.8,625.5 555.9,622.8 556.9,630.9 558.0,641.6 559.1,644.3 560.2,638.9 561.2,633.6 562.3,636.2 563.4,644.3 564.5,649.7 565.6,641.6 566.6,636.2 567.7,633.6 568.8,630.9 569.9,620.1 570.9,609.3 572.0,587.8 573.1,579.7 574.2,598.5 575.3,630.9 576.3,638.9 577.4,609.3 578.5,603.9 579.6,614.7 580.6,641.6 581.7,641.6 582.8,630.9 583.9,625.5 585.0,620.1 586.0,622.8 587.1,630.9 588.2,636.2 589.3,625.5 590.3,620.1 591.4,617.4 592.5,620.1 593.6,625.5 595.2,625.5 596.3,622.8 597.4,609.3 598.5,587.8 599.5,560.8 600.6,550.0 601.2,582.4 602.2,612.0 603.3,609.3 604.4,593.1 605.5,579.7 606.5,582.4 607.6,595.8 608.7,601.2 609.8,598.5 610.9,587.8 611.9,574.3 613.0,560.8 614.1,550.0 615.2,539.3 616.2,544.7 617.3,560.8 618.4,539.3 619.5,515.0 620.6,533.9 621.6,568.9 622.7,593.1 623.8,609.3 624.9,601.2 625.9,598.5 627.0,603.9 628.1,614.7 629.2,630.9 630.3,633.6 631.3,625.5 632.4,622.8 634.3,620.1 635.4,625.5 636.5,630.9 637.5,625.5 638.6,622.8 639.7,626.8 640.8,628.2 641.9,625.5 642.9,624.1 644.0,625.5 645.1,626.8 646.2,628.2 647.8,626.8 649.4,625.5 651.0,625.5 652.6,624.1 654.2,622.8 655.9,620.1 656.9,618.7 658.0,625.5 659.1,630.9 660.2,636.2 661.2,641.6 662.3,614.7 663.4,598.5 664.5,620.1 665.6,577.0 666.6,547.3 667.7,571.6 668.8,603.9 669.9,636.2 670.9,641.6 672.0,620.1 673.1,598.5 674.2,601.2 675.3,593.1 676.3,587.8 677.4,603.9 678.5,598.5 679.6,566.2 680.6,568.9 681.7,593.1 682.8,614.7 683.9,625.5" fill="none" stroke="#FFFF00" stroke-width="2.6" stroke-linejoin="round"/>
<path d="M46.30,699.0v4.8M55.16,699.0v4.8M64.03,699.0v4.8M72.89,699.0v4.8M81.75,699.0v4.8M90.61,699.0v4.8M99.47,699.0v4.8M108.34,699.0v4.8M117.20,699.0v4.8M126.06,699.0v4.8M134.93,699.0v4.8M143.79,699.0v4.8M152.65,699.0v4.8M161.51,699.0v4.8M170.38,699.0v4.8M179.24,699.0v4.8M188.10,699.0v4.8M196.96,699.0v4.8M205.82,699.0v4.8M214.69,699.0v4.8M223.55,699.0v4.8M232.41,699.0v4.8M241.27,699.0v4.8M250.14,699.0v4.8M259.00,699.0v4.8M267.86,699.0v4.8M276.72,699.0v4.8M285.59,699.0v4.8M294.45,699.0v4.8M303.31,699.0v4.8M312.18,699.0v4.8M321.04,699.0v4.8M329.90,699.0v4.8M338.76,699.0v4.8M347.62,699.0v4.8M356.49,699.0v4.8M365.35,699.0v4.8M374.21,699.0v4.8M383.07,699.0v4.8M391.94,699.0v4.8M400.80,699.0v4.8M409.66,699.0v4.8M418.52,699.0v4.8M427.39,699.0v4.8M436.25,699.0v4.8M445.11,699.0v4.8M453.98,699.0v4.8M462.84,699.0v4.8M471.70,699.0v4.8M480.56,699.0v4.8M489.43,699.0v4.8M498.29,699.0v4.8M507.15,699.0v4.8M516.01,699.0v4.8M524.88,699.0v4.8M533.74,699.0v4.8M542.60,699.0v4.8M551.46,699.0v4.8M560.32,699.0v4.8M569.19,699.0v4.8M578.05,699.0v4.8M586.91,699.0v4.8M595.77,699.0v4.8M604.64,699.0v4.8M613.50,699.0v4.8M622.36,699.0v4.8M631.22,699.0v4.8M640.09,699.0v4.8M648.95,699.0v4.8M657.81,699.0v4.8M666.67,699.0v4.8M675.54,699.0v4.8M684.40,699.0v4.8" stroke="#333" stroke-width="1.1"/>
<line x1="45.8" x2="684.9" y1="461.6" y2="461.6" stroke="#222" stroke-width="1.1"/>
<line x1="684.4" x2="684.4" y1="461.1" y2="703.8" stroke="#111" stroke-width="1.1"/>
<line x1="46.3" x2="46.3" y1="461.1" y2="703.8" stroke="#5a5a5a" stroke-width="1.2"/>
<line x1="46.3" x2="684.4" y1="699.0" y2="699.0" stroke="#777" stroke-width="1.1"/>
<text x="41.5" y="705.4" text-anchor="end" font-size="19" transform="translate(41.5,0) scale(0.75,1) translate(-41.5,0)">0</text>
<text x="41.5" y="681.7" text-anchor="end" font-size="19" transform="translate(41.5,0) scale(0.75,1) translate(-41.5,0)">100</text>
<text x="41.5" y="657.9" text-anchor="end" font-size="19" transform="translate(41.5,0) scale(0.75,1) translate(-41.5,0)">200</text>
<text x="41.5" y="634.2" text-anchor="end" font-size="19" transform="translate(41.5,0) scale(0.75,1) translate(-41.5,0)">300</text>
<text x="41.5" y="610.4" text-anchor="end" font-size="19" transform="translate(41.5,0) scale(0.75,1) translate(-41.5,0)">400</text>
<text x="41.5" y="586.7" text-anchor="end" font-size="19" transform="translate(41.5,0) scale(0.75,1) translate(-41.5,0)">500</text>
<text x="41.5" y="563.0" text-anchor="end" font-size="19" transform="translate(41.5,0) scale(0.75,1) translate(-41.5,0)">600</text>
<text x="41.5" y="539.2" text-anchor="end" font-size="19" transform="translate(41.5,0) scale(0.75,1) translate(-41.5,0)">700</text>
<text x="41.5" y="515.5" text-anchor="end" font-size="19" transform="translate(41.5,0) scale(0.75,1) translate(-41.5,0)">800</text>
<text x="41.5" y="491.7" text-anchor="end" font-size="19" transform="translate(41.5,0) scale(0.75,1) translate(-41.5,0)">900</text>
<text x="41.5" y="468.0" text-anchor="end" font-size="19" transform="translate(41.5,0) scale(0.75,1) translate(-41.5,0)">1000</text>
<text x="0" y="0" text-anchor="end" font-size="16.2" transform="translate(51.59,709.4) scale(0.82,1) rotate(-90)">1</text>
<text x="0" y="0" text-anchor="end" font-size="16.2" transform="translate(65.77,709.4) scale(0.82,1) rotate(-90)">9</text>
<text x="0" y="0" text-anchor="end" font-size="16.2" transform="translate(79.95,709.4) scale(0.82,1) rotate(-90)">17</text>
<text x="0" y="0" text-anchor="end" font-size="16.2" transform="translate(94.13,709.4) scale(0.82,1) rotate(-90)">25</text>
<text x="0" y="0" text-anchor="end" font-size="16.2" transform="translate(108.31,709.4) scale(0.82,1) rotate(-90)">33</text>
<text x="0" y="0" text-anchor="end" font-size="16.2" transform="translate(122.49,709.4) scale(0.82,1) rotate(-90)">41</text>
<text x="0" y="0" text-anchor="end" font-size="16.2" transform="translate(136.67,709.4) scale(0.82,1) rotate(-90)">49</text>
<text x="0" y="0" text-anchor="end" font-size="16.2" transform="translate(150.85,709.4) scale(0.82,1) rotate(-90)">57</text>
<text x="0" y="0" text-anchor="end" font-size="16.2" transform="translate(165.03,709.4) scale(0.82,1) rotate(-90)">65</text>
<text x="0" y="0" text-anchor="end" font-size="16.2" transform="translate(179.21,709.4) scale(0.82,1) rotate(-90)">73</text>
<text x="0" y="0" text-anchor="end" font-size="16.2" transform="translate(193.39,709.4) scale(0.82,1) rotate(-90)">81</text>
<text x="0" y="0" text-anchor="end" font-size="16.2" transform="translate(207.57,709.4) scale(0.82,1) rotate(-90)">89</text>
<text x="0" y="0" text-anchor="end" font-size="16.2" transform="translate(221.75,709.4) scale(0.82,1) rotate(-90)">97</text>
<text x="0" y="0" text-anchor="end" font-size="16.2" transform="translate(235.93,709.4) scale(0.82,1) rotate(-90)">105</text>
<text x="0" y="0" text-anchor="end" font-size="16.2" transform="translate(250.11,709.4) scale(0.82,1) rotate(-90)">113</text>
<text x="0" y="0" text-anchor="end" font-size="16.2" transform="translate(264.29,709.4) scale(0.82,1) rotate(-90)">121</text>
<text x="0" y="0" text-anchor="end" font-size="16.2" transform="translate(278.47,709.4) scale(0.82,1) rotate(-90)">129</text>
<text x="0" y="0" text-anchor="end" font-size="16.2" transform="translate(292.65,709.4) scale(0.82,1) rotate(-90)">137</text>
<text x="0" y="0" text-anchor="end" font-size="16.2" transform="translate(306.83,709.4) scale(0.82,1) rotate(-90)">145</text>
<text x="0" y="0" text-anchor="end" font-size="16.2" transform="translate(321.01,709.4) scale(0.82,1) rotate(-90)">153</text>
<text x="0" y="0" text-anchor="end" font-size="16.2" transform="translate(335.19,709.4) scale(0.82,1) rotate(-90)">161</text>
<text x="0" y="0" text-anchor="end" font-size="16.2" transform="translate(349.37,709.4) scale(0.82,1) rotate(-90)">169</text>
<text x="0" y="0" text-anchor="end" font-size="16.2" transform="translate(363.55,709.4) scale(0.82,1) rotate(-90)">177</text>
<text x="0" y="0" text-anchor="end" font-size="16.2" transform="translate(377.73,709.4) scale(0.82,1) rotate(-90)">185</text>
<text x="0" y="0" text-anchor="end" font-size="16.2" transform="translate(391.91,709.4) scale(0.82,1) rotate(-90)">193</text>
<text x="0" y="0" text-anchor="end" font-size="16.2" transform="translate(406.09,709.4) scale(0.82,1) rotate(-90)">201</text>
<text x="0" y="0" text-anchor="end" font-size="16.2" transform="translate(420.27,709.4) scale(0.82,1) rotate(-90)">209</text>
<text x="0" y="0" text-anchor="end" font-size="16.2" transform="translate(434.45,709.4) scale(0.82,1) rotate(-90)">217</text>
<text x="0" y="0" text-anchor="end" font-size="16.2" transform="translate(448.63,709.4) scale(0.82,1) rotate(-90)">225</text>
<text x="0" y="0" text-anchor="end" font-size="16.2" transform="translate(462.81,709.4) scale(0.82,1) rotate(-90)">233</text>
<text x="0" y="0" text-anchor="end" font-size="16.2" transform="translate(476.99,709.4) scale(0.82,1) rotate(-90)">241</text>
<text x="0" y="0" text-anchor="end" font-size="16.2" transform="translate(491.17,709.4) scale(0.82,1) rotate(-90)">249</text>
<text x="0" y="0" text-anchor="end" font-size="16.2" transform="translate(505.35,709.4) scale(0.82,1) rotate(-90)">257</text>
<text x="0" y="0" text-anchor="end" font-size="16.2" transform="translate(519.53,709.4) scale(0.82,1) rotate(-90)">265</text>
<text x="0" y="0" text-anchor="end" font-size="16.2" transform="translate(533.71,709.4) scale(0.82,1) rotate(-90)">273</text>
<text x="0" y="0" text-anchor="end" font-size="16.2" transform="translate(547.89,709.4) scale(0.82,1) rotate(-90)">281</text>
<text x="0" y="0" text-anchor="end" font-size="16.2" transform="translate(562.07,709.4) scale(0.82,1) rotate(-90)">289</text>
<text x="0" y="0" text-anchor="end" font-size="16.2" transform="translate(576.25,709.4) scale(0.82,1) rotate(-90)">297</text>
<text x="0" y="0" text-anchor="end" font-size="16.2" transform="translate(590.43,709.4) scale(0.82,1) rotate(-90)">305</text>
<text x="0" y="0" text-anchor="end" font-size="16.2" transform="translate(604.61,709.4) scale(0.82,1) rotate(-90)">313</text>
<text x="0" y="0" text-anchor="end" font-size="16.2" transform="translate(618.79,709.4) scale(0.82,1) rotate(-90)">321</text>
<text x="0" y="0" text-anchor="end" font-size="16.2" transform="translate(632.97,709.4) scale(0.82,1) rotate(-90)">329</text>
<text x="0" y="0" text-anchor="end" font-size="16.2" transform="translate(647.15,709.4) scale(0.82,1) rotate(-90)">337</text>
<text x="0" y="0" text-anchor="end" font-size="16.2" transform="translate(661.33,709.4) scale(0.82,1) rotate(-90)">345</text>
<text x="0" y="0" text-anchor="end" font-size="16.2" transform="translate(675.51,709.4) scale(0.82,1) rotate(-90)">353</text>
<rect x="230.9" y="426.5" width="18.9" height="7.5" fill="#5B9BD5"/>
<text x="251.5" y="436.1" font-size="14.5" textLength="95.0" lengthAdjust="spacingAndGlyphs">Uncertainty bound</text>
<line x1="359.6" x2="381.1" y1="430.2" y2="430.2" stroke="#FFFF00" stroke-width="2.2"/>
<text x="381.5" y="436.1" font-size="14.5" textLength="73.0" lengthAdjust="spacingAndGlyphs">Observed data</text>
<text x="322.4" y="752.7" font-size="15.5" textLength="86.3" lengthAdjust="spacingAndGlyphs">Number of month</text>
<text x="0" y="0" class="sans" font-size="8.5" textLength="124.3" lengthAdjust="spacingAndGlyphs" transform="translate(7.5,640.2) rotate(-90)">Evaporation value (mm)</text>
<text x="159.8" y="819.8" font-size="15.4" textLength="312.5" lengthAdjust="spacingAndGlyphs">MKELM-GPR (PICP=0.91, and PINW=0.18)</text>
<line x1="290.5" y1="61.2" x2="282.7" y2="125.9" stroke="#1a1a1a" stroke-width="1.0"/><polygon points="282.0,131.9 279.9,124.6 285.8,125.3" fill="#1a1a1a"/>
<line x1="317.4" y1="103.3" x2="310.6" y2="168.0" stroke="#1a1a1a" stroke-width="1.0"/><polygon points="310.0,174.0 307.7,166.7 313.7,167.4" fill="#1a1a1a"/>
<line x1="336.4" y1="108.3" x2="329.2" y2="172.3" stroke="#1a1a1a" stroke-width="1.0"/><polygon points="328.5,178.3 326.3,171.0 332.3,171.7" fill="#1a1a1a"/>
<line x1="301.1" y1="251.9" x2="343.1" y2="228.2" stroke="#1a1a1a" stroke-width="1.0"/><polygon points="348.3,225.2 343.7,231.3 340.7,226.0" fill="#1a1a1a"/>
<line x1="301.0" y1="489.3" x2="293.2" y2="558.1" stroke="#1a1a1a" stroke-width="1.0"/><polygon points="292.5,564.1 290.3,556.8 296.3,557.5" fill="#1a1a1a"/>
<line x1="313.8" y1="513.9" x2="306.4" y2="583.5" stroke="#1a1a1a" stroke-width="1.0"/><polygon points="305.8,589.5 303.6,582.2 309.5,582.9" fill="#1a1a1a"/>
<line x1="329.6" y1="534.2" x2="322.2" y2="603.0" stroke="#1a1a1a" stroke-width="1.0"/><polygon points="321.6,609.0 319.4,601.7 325.3,602.4" fill="#1a1a1a"/>
<line x1="348.6" y1="539.3" x2="341.1" y2="608.3" stroke="#1a1a1a" stroke-width="1.0"/><polygon points="340.5,614.3 338.3,607.0 344.2,607.7" fill="#1a1a1a"/>
<line x1="312.5" y1="692.3" x2="355.4" y2="666.8" stroke="#1a1a1a" stroke-width="1.0"/><polygon points="360.6,663.7 356.1,669.9 353.1,664.7" fill="#1a1a1a"/>
</svg>
</body></html>
